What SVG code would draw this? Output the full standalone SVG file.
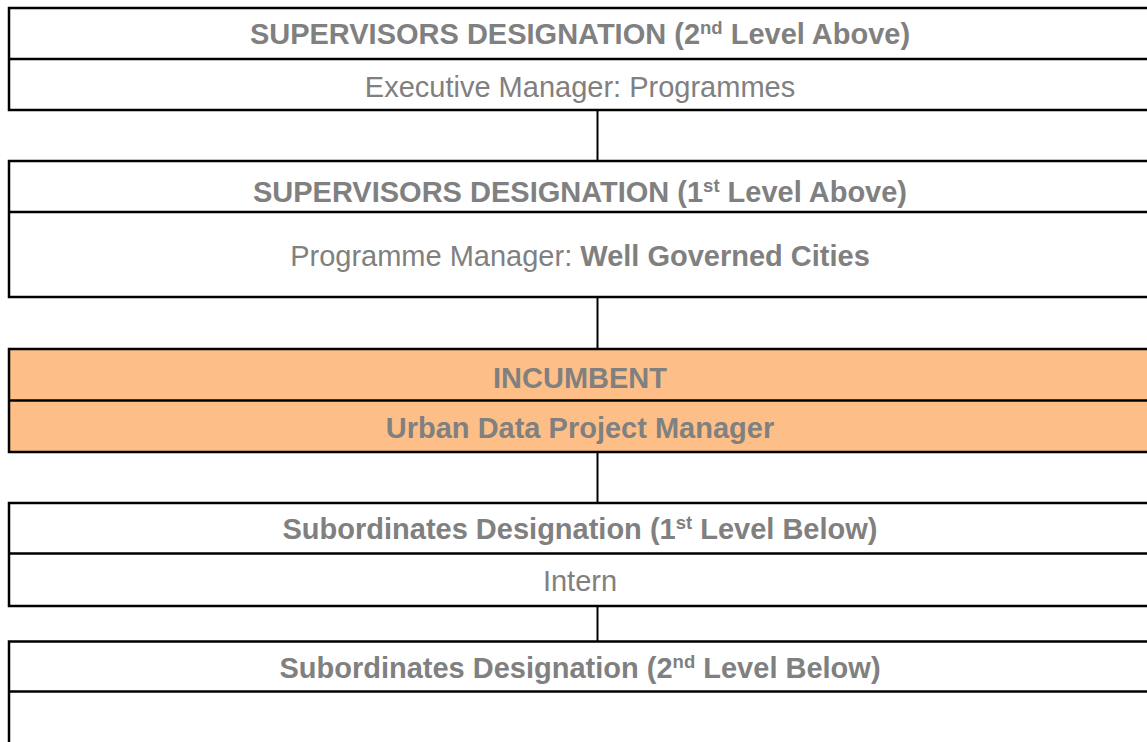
<svg xmlns="http://www.w3.org/2000/svg" width="1147" height="742" viewBox="0 0 1147 742">
<style>
.box{fill:#ffffff;stroke:#000;stroke-width:2.5}
.inc{fill:#fdbf87;stroke:#000;stroke-width:2.5}
.div{stroke:#000;stroke-width:2.5}
.conn{stroke:#000;stroke-width:2}
text{font-family:"Liberation Sans",Arial,sans-serif;font-size:29px;fill:#808080;text-anchor:middle}
.b{font-weight:bold}
.sup{font-size:18.5px}
</style>
<rect width="1147" height="742" fill="#fff"/>
<g id="connectors">
<line class="conn" x1="597.5" y1="110" x2="597.5" y2="161"/>
<line class="conn" x1="597.5" y1="297" x2="597.5" y2="349"/>
<line class="conn" x1="597.5" y1="452" x2="597.5" y2="503"/>
<line class="conn" x1="597.5" y1="606" x2="597.5" y2="642"/>
</g>
<g id="sup2">
<rect class="box" x="9" y="8" width="1150" height="102"/>
<line class="div" x1="9" y1="59" x2="1160" y2="59"/>
<text class="b" x="580" y="44">SUPERVISORS DESIGNATION (2<tspan class="sup" dy="-10">nd</tspan><tspan dy="10"> Level Above)</tspan></text>
<text x="580" y="97">Executive Manager: Programmes</text>
</g>
<g id="sup1">
<rect class="box" x="9" y="161" width="1150" height="136"/>
<line class="div" x1="9" y1="212" x2="1160" y2="212"/>
<text class="b" x="580" y="202">SUPERVISORS DESIGNATION (1<tspan class="sup" dy="-10">st</tspan><tspan dy="10"> Level Above)</tspan></text>
<text x="580" y="266">Programme Manager: <tspan class="b">Well Governed Cities</tspan></text>
</g>
<g id="incumbent">
<rect class="inc" x="9" y="349" width="1150" height="103"/>
<line class="div" x1="9" y1="400.5" x2="1160" y2="400.5"/>
<text class="b" x="580" y="388">INCUMBENT</text>
<text class="b" x="580" y="438">Urban Data Project Manager</text>
</g>
<g id="sub1">
<rect class="box" x="9" y="503" width="1150" height="103"/>
<line class="div" x1="9" y1="553.5" x2="1160" y2="553.5"/>
<text class="b" x="580" y="539">Subordinates Designation (1<tspan class="sup" dy="-10">st</tspan><tspan dy="10"> Level Below)</tspan></text>
<text x="580" y="591">Intern</text>
</g>
<g id="sub2">
<rect class="box" x="9" y="641.5" width="1150" height="120"/>
<line class="div" x1="9" y1="691.5" x2="1160" y2="691.5"/>
<text class="b" x="580" y="678">Subordinates Designation (2<tspan class="sup" dy="-10">nd</tspan><tspan dy="10"> Level Below)</tspan></text>
</g>
</svg>
